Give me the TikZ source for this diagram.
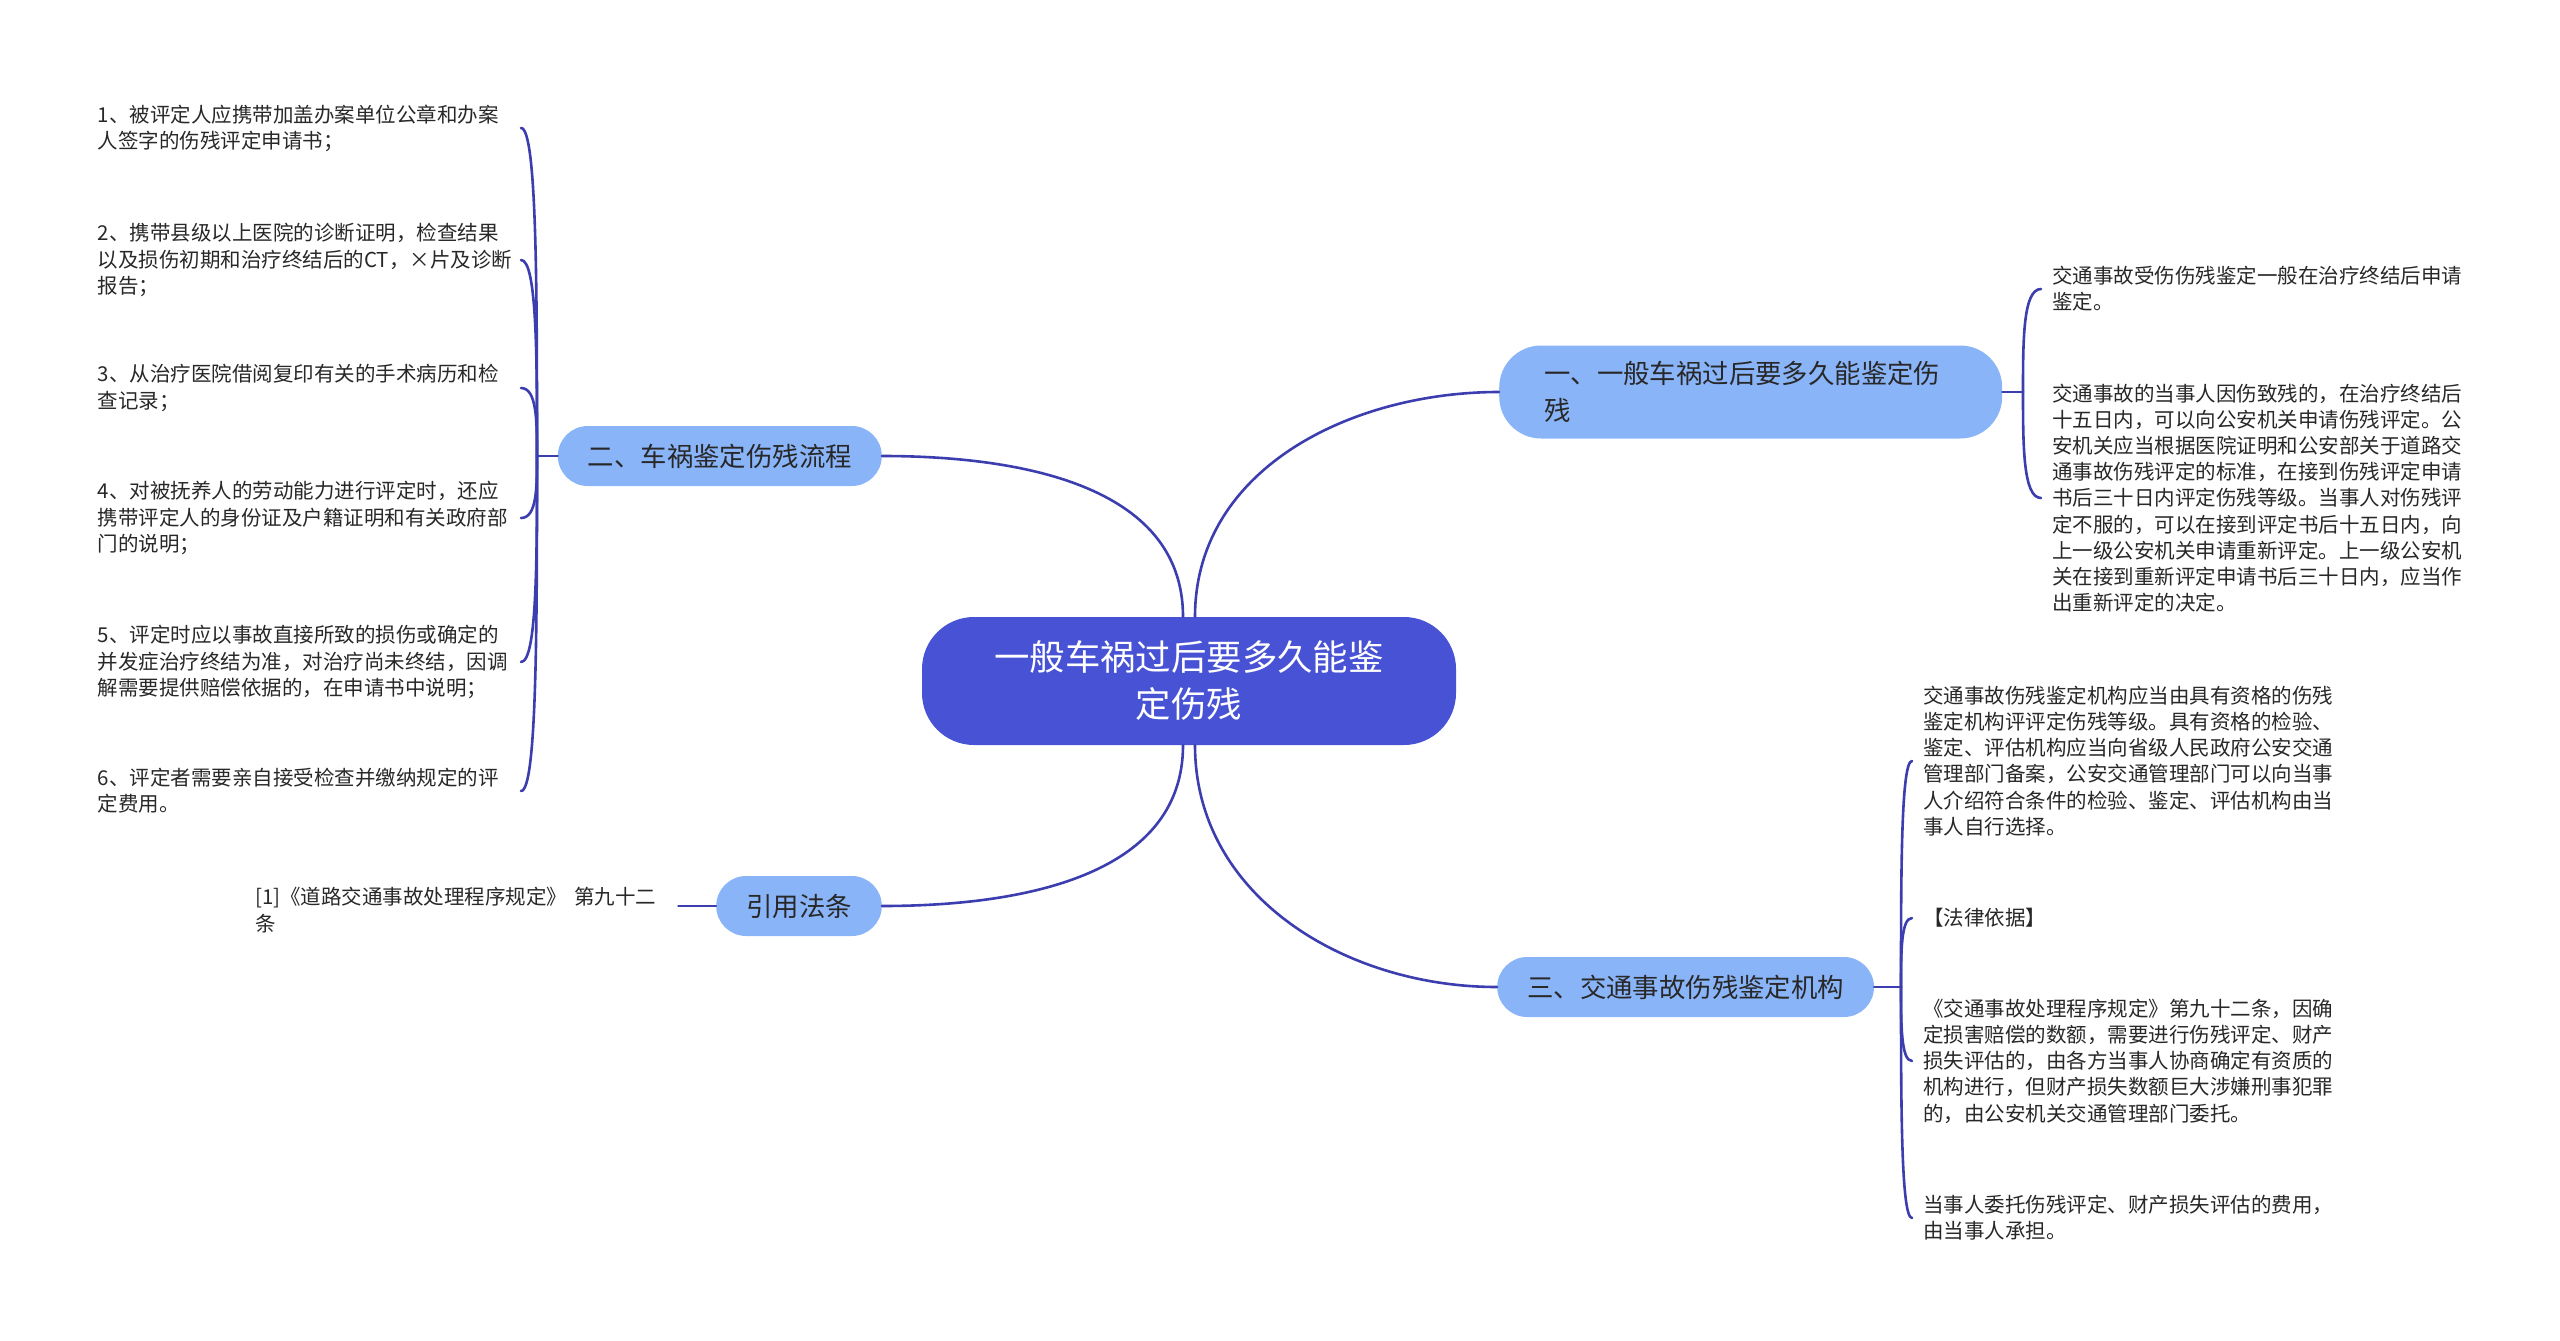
\documentclass[tikz,border=0pt]{standalone}
\usepackage{fontspec}
\setmainfont{Noto Sans CJK SC}
\usetikzlibrary{calc}
\definecolor{rootblue}{RGB}{72,82,212}
\definecolor{topicblue}{RGB}{138,180,248}
\definecolor{linkblue}{RGB}{60,62,175}
\definecolor{txtgray}{RGB}{40,40,40}

\tikzset{
  root/.style={fill=rootblue, text=white, rounded corners=52pt, minimum width=534pt,
    minimum height=128pt, align=center, font=\fontsize{35.4}{47}\selectfont},
  topic/.style={fill=topicblue, text=txtgray, rounded corners=30pt, minimum height=60pt,
    inner xsep=30pt, font=\fontsize{26.4}{37}\selectfont},
  leaf/.style={text=txtgray, text width=412pt, align=left, inner xsep=11pt, inner ysep=3pt,
    font=\fontsize{20.5}{26.2}\selectfont},
  link/.style={draw=linkblue, line width=2.6pt, line cap=round},
}

\begin{document}
\begin{tikzpicture}[x=1pt,y=1pt]
  \useasboundingbox (0,0) rectangle (2560,-1341);
  \fill[white] (0,0) rectangle (2560,-1341);

  % centre
  \node[root] (root) at (1189,-681) {一般车祸过后要多久能鉴\\定伤残};

  % main topics
  \node[topic, anchor=west, text width=413pt, align=left, inner xsep=45pt,
    minimum height=93pt, rounded corners=42pt] (when) at (1499,-392)
    {一、一般车祸过后要多久能鉴定伤\\残};
  \node[topic, anchor=east] (proc) at (882,-456) {二、车祸鉴定伤残流程};
  \node[topic, anchor=east] (law) at (882,-906) {引用法条};
  \node[topic, anchor=west] (inst) at (1497,-987) {三、交通事故伤残鉴定机构};

  \draw[link] ([xshift=6pt]root.north) to[out=90,in=180] (when.west);
  \draw[link] ([xshift=-6pt]root.north) to[out=90,in=0] (proc.east);
  \draw[link] ([xshift=-6pt]root.south) to[out=-90,in=0] (law.east);
  \draw[link] ([xshift=6pt]root.south) to[out=-90,in=180] (inst.west);

  % 二、流程
  \coordinate (fproc) at (537,-456);
  \draw[link] (proc.west) -- (fproc);
  \foreach \n/\y/\t in {
      p1/128/{1、被评定人应携带加盖办案单位公章和办案\\人签字的伤残评定申请书；},
      p2/260/{2、携带县级以上医院的诊断证明，检查结果\\以及损伤初期和治疗终结后的CT，×片及诊断\\报告；},
      p3/388/{3、从治疗医院借阅复印有关的手术病历和检\\查记录；},
      p4/518/{4、对被抚养人的劳动能力进行评定时，还应\\携带评定人的身份证及户籍证明和有关政府部\\门的说明；},
      p5/662/{5、评定时应以事故直接所致的损伤或确定的\\并发症治疗终结为准，对治疗尚未终结，因调\\解需要提供赔偿依据的，在申请书中说明；},
      p6/791/{6、评定者需要亲自接受检查并缴纳规定的评\\定费用。}} {
    \node[leaf, anchor=east] (\n) at (521,-\y) {\t};
    \draw[link] (fproc) .. controls ($(fproc)!.5!(fproc|-\n.east)$) and (fproc|-\n.east) .. (\n.east);
  }

  % 一、多久
  \coordinate (fwhen) at (2023,-392);
  \draw[link] (when.east) -- (fwhen);
  \foreach \n/\y/\t in {
      w1/289/{交通事故受伤伤残鉴定一般在治疗终结后申请\\鉴定。},
      w2/498/{交通事故的当事人因伤致残的，在治疗终结后\\十五日内，可以向公安机关申请伤残评定。公\\安机关应当根据医院证明和公安部关于道路交\\通事故伤残评定的标准，在接到伤残评定申请\\书后三十日内评定伤残等级。当事人对伤残评\\定不服的，可以在接到评定书后十五日内，向\\上一级公安机关申请重新评定。上一级公安机\\关在接到重新评定申请书后三十日内，应当作\\出重新评定的决定。}} {
    \node[leaf, anchor=west] (\n) at (2041,-\y) {\t};
    \draw[link] (fwhen) .. controls ($(fwhen)!.5!(fwhen|-\n.west)$) and (fwhen|-\n.west) .. (\n.west);
  }

  % 三、机构
  \coordinate (finst) at (1901,-987);
  \draw[link] (inst.east) -- (finst);
  \foreach \n/\y/\t in {
      i1/761/{交通事故伤残鉴定机构应当由具有资格的伤残\\鉴定机构评评定伤残等级。具有资格的检验、\\鉴定、评估机构应当向省级人民政府公安交通\\管理部门备案，公安交通管理部门可以向当事\\人介绍符合条件的检验、鉴定、评估机构由当\\事人自行选择。},
      i2/918/{【法律依据】},
      i3/1061/{《交通事故处理程序规定》第九十二条，因确\\定损害赔偿的数额，需要进行伤残评定、财产\\损失评估的，由各方当事人协商确定有资质的\\机构进行，但财产损失数额巨大涉嫌刑事犯罪\\的，由公安机关交通管理部门委托。},
      i4/1218/{当事人委托伤残评定、财产损失评估的费用，\\由当事人承担。}} {
    \node[leaf, anchor=west] (\n) at (1912,-\y) {\t};
    \draw[link] (finst) .. controls ($(finst)!.5!(finst|-\n.west)$) and (finst|-\n.west) .. (\n.west);
  }

  % 引用法条
  \node[leaf, anchor=west] (cite) at (244,-910) {[1]《道路交通事故处理程序规定》 第九十二\\条};
  \draw[link] (cite.east |- law.west) -- (law.west);
\end{tikzpicture}
\end{document}
